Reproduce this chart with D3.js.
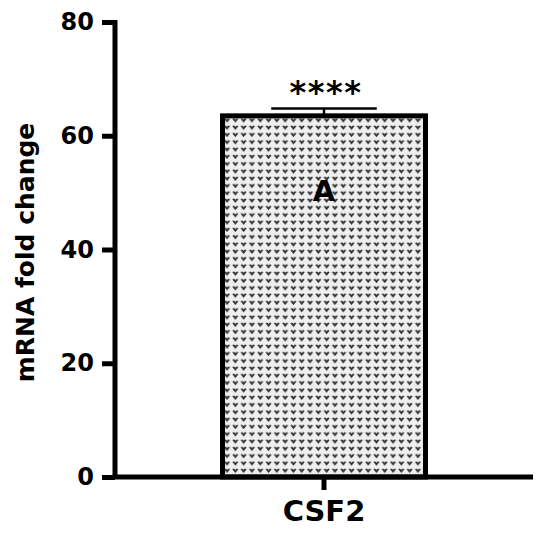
<!DOCTYPE html>
<html>
<head>
<meta charset="utf-8">
<script src="https://cdn.jsdelivr.net/npm/d3@7"></script>
<style>
  body { margin: 0; background: #fff; }
  text { font-family: "DejaVu Sans", Arial, sans-serif; font-weight: bold; }
</style>
</head>
<body>
<script>
// chart values
var genes = ["CSF2"];
var foldChange = [63.5];
var sem = [1.3];
var stars = ["****"];
var groupLetter = ["A"];
var yTicks = [0, 20, 40, 60, 80];

var svgWidth = 550;
var svgHeight = 534;

var margin = { top: 22, right: 17, bottom: 57, left: 115 };
var chartWidth = svgWidth - margin.left - margin.right;
var chartHeight = svgHeight - margin.top - margin.bottom;

var svg = d3.select("body")
  .append("svg")
  .attr("width", svgWidth)
  .attr("height", svgHeight);

// dotted "heart" fill like the prism pattern
var defs = svg.append("defs");
var pat = defs.append("pattern")
  .attr("id", "hearts")
  .attr("patternUnits", "userSpaceOnUse")
  .attr("width", 8.3)
  .attr("height", 7.3);
pat.append("rect")
  .attr("width", 8.3)
  .attr("height", 7.3)
  .attr("fill", "#efefef");
pat.append("path")
  .attr("d", "M1.2,2.0 Q2.4,0.7 4.15,2.4 Q5.9,0.7 7.1,2.0 L4.15,5.6 Z")
  .attr("fill", "#333");

var chartGroup = svg.append("g")
  .attr("transform", `translate(${margin.left}, ${margin.top})`);

var xScale = d3.scaleBand()
  .domain(genes)
  .range([0, chartWidth])
  .paddingInner(0)
  .paddingOuter(0.51);

var yScale = d3.scaleLinear()
  .domain([0, 80])
  .range([chartHeight, 0]);

// bars
chartGroup.selectAll(".bar")
  .data(genes)
  .enter()
  .append("rect")
  .attr("class", "bar")
  .attr("x", d => xScale(d) + 2)
  .attr("y", (d, i) => yScale(foldChange[i]))
  .attr("width", xScale.bandwidth() - 4)
  .attr("height", (d, i) => chartHeight - yScale(foldChange[i]))
  .attr("fill", "url(#hearts)")
  .attr("stroke", "#000")
  .attr("stroke-width", 5);

// error bars (upper only)
var capHalf = xScale.bandwidth() * 0.255;
genes.forEach(function(g, i) {
  var cx = xScale(g) + xScale.bandwidth() / 2;
  chartGroup.append("line")
    .attr("x1", cx).attr("x2", cx)
    .attr("y1", yScale(foldChange[i]))
    .attr("y2", yScale(foldChange[i] + sem[i]))
    .attr("stroke", "#000")
    .attr("stroke-width", 2.5);
  chartGroup.append("line")
    .attr("x1", cx - capHalf).attr("x2", cx + capHalf)
    .attr("y1", yScale(foldChange[i] + sem[i]))
    .attr("y2", yScale(foldChange[i] + sem[i]))
    .attr("stroke", "#000")
    .attr("stroke-width", 2.5);
  chartGroup.append("text")
    .attr("x", cx + 2)
    .attr("y", yScale(foldChange[i] + sem[i]) - 5)
    .attr("text-anchor", "middle")
    .attr("font-size", "32px")
    .attr("letter-spacing", "1.5px")
    .text(stars[i]);
  chartGroup.append("text")
    .attr("x", cx)
    .attr("y", yScale(48.5))
    .attr("text-anchor", "middle")
    .attr("font-size", "29px")
    .text(groupLetter[i]);
});

// axes
var yAxis = d3.axisLeft(yScale)
  .tickValues(yTicks)
  .tickSize(13)
  .tickPadding(8);

var xAxis = d3.axisBottom(xScale)
  .tickSize(13)
  .tickPadding(10);

var yg = chartGroup.append("g").call(yAxis);
yg.select(".domain").attr("d", `M-13,0.5H0V${chartHeight}`);

var xg = chartGroup.append("g")
  .attr("transform", `translate(0, ${chartHeight})`)
  .call(xAxis);
xg.select(".domain").attr("d", `M-2.5,0H${chartWidth}`);

[yg, xg].forEach(function(ax) {
  ax.selectAll(".domain, .tick line")
    .attr("stroke", "#000")
    .attr("stroke-width", 5);
  ax.selectAll("text")
    .attr("fill", "#000")
    .style("font-family", "'DejaVu Sans', Arial, sans-serif")
    .style("font-weight", "bold");
});
yg.selectAll("text").style("font-size", "24px");
xg.selectAll("text").style("font-size", "29px");

// y axis title
svg.append("text")
  .attr("transform", `translate(34, ${margin.top + chartHeight / 2 + 3}) rotate(-90)`)
  .attr("text-anchor", "middle")
  .attr("font-size", "25px")
  .text("mRNA fold change");
</script>
</body>
</html>
